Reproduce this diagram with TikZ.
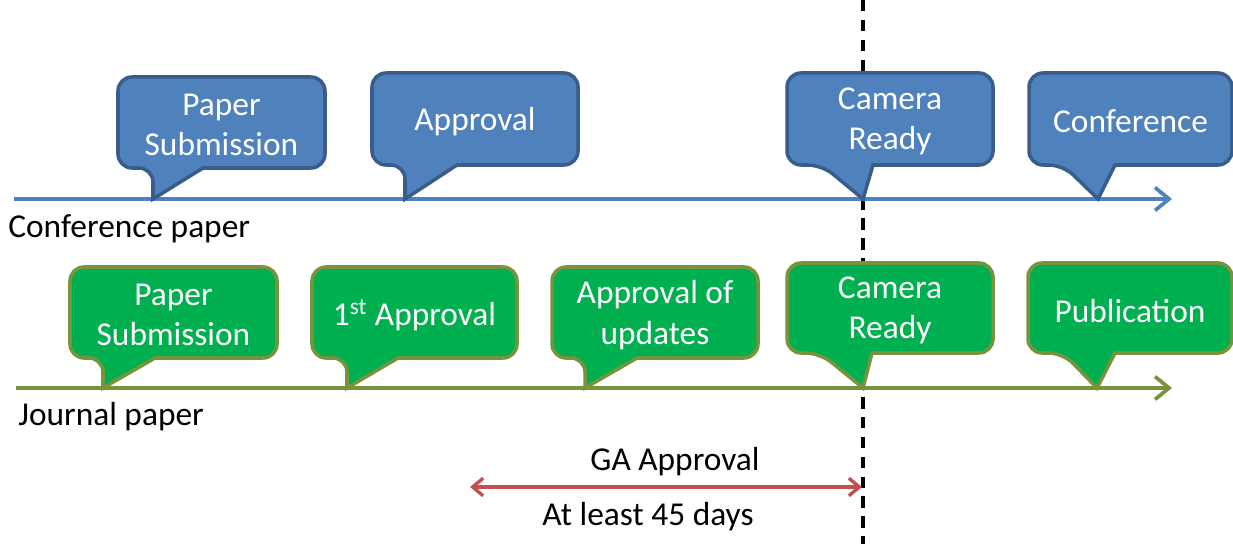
\documentclass[tikz,border=0pt]{standalone}
\usepackage{fontspec}
\setmainfont{Carlito}
\usetikzlibrary{arrows.meta}

\definecolor{confblue}{HTML}{4F81BD}
\definecolor{confedge}{HTML}{385D8A}
\definecolor{journgreen}{HTML}{00B050}
\definecolor{journedge}{HTML}{77933C}
\definecolor{gared}{HTML}{C0504D}

\tikzset{
    confbox/.style={draw=confedge, fill=confblue, line width=2pt},
    journbox/.style={draw=journedge, fill=journgreen, line width=2pt},
    boxtext/.style={text=white, align=center, yshift=-1.5pt, font=\fontsize{19}{23}\selectfont},
    linetext/.style={text=black, align=center, inner sep=0pt, font=\fontsize{19}{23}\selectfont},
    timeline/.style={line width=2.1pt, -{Straight Barb[length=8pt,width=13pt]}},
}

\begin{document}
\begin{tikzpicture}[x=0.2mm, y=-0.2mm]

    \useasboundingbox (0,0) rectangle (1233,544);

    % deadline marker
    \coordinate (dTop) at (863,0);
    \coordinate (dBottom) at (863,544);
    \draw[line width=1.9pt, dash pattern=on 6.5pt off 4.8pt] (dTop) -- (dBottom);

    % the two timelines
    \coordinate (confStart) at (14,199);
    \coordinate (confEnd) at (1172,199);
    \coordinate (journStart) at (16,388);
    \coordinate (journEnd) at (1172,388);

    \draw[timeline, draw=confblue] (confStart) -- (confEnd);
    \draw[timeline, draw=journedge] (journStart) -- (journEnd);

    \node[linetext, anchor=west] (confLabel) at (8,229) {Conference paper};
    \node[linetext, anchor=west] (journLabel) at (18,417) {Journal paper};

    % conference callouts
    \foreach \name/\xa/\ya/\xb/\yb/\tl/\tx/\tr/\txt in {
        cSubmit/118/77/325/168/153/153/203/{Paper\\Submission},
        cApprove/372/73/578/165/405/405/457/{Approval},
        cCamera/787/73/993/165/822/863/873/{Camera\\Ready},
        cConf/1029/73/1232/165/1063/1098/1115/{Conference}} {
        \coordinate (\name Tip) at (\tx,199);
        \draw[confbox] (\tr,\yb) [rounded corners=8pt] -- (\xb,\yb) -- (\xb,\ya) -- (\xa,\ya) -- (\xa,\yb) -- (\tl,\yb)
            [sharp corners] -- (\name Tip) -- cycle;
        \node[boxtext] (\name) at ({(\xa+\xb)/2},{(\ya+\yb)/2}) {\txt};
    }

    % journal callouts
    \foreach \name/\xa/\ya/\xb/\yb/\tl/\tx/\tr/\txt in {
        jSubmit/70/267/277/358/103/103/155/{Paper\\Submission},
        jApprove/312/267/517/358/347/347/398/{1\textsuperscript{st} Approval},
        jUpdates/552/267/758/358/585/585/637/{Approval of\\updates},
        jCamera/787/263/993/353/820/863/872/{Camera\\Ready},
        jPublish/1028/263/1232/353/1063/1097/1115/{Publication}} {
        \coordinate (\name Tip) at (\tx,388);
        \draw[journbox] (\tr,\yb) [rounded corners=8pt] -- (\xb,\yb) -- (\xb,\ya) -- (\xa,\ya) -- (\xa,\yb) -- (\tl,\yb)
            [sharp corners] -- (\name Tip) -- cycle;
        \node[boxtext] (\name) at ({(\xa+\xb)/2},{(\ya+\yb)/2}) {\txt};
    }

    % GA approval span
    \coordinate (gaStart) at (470,487);
    \coordinate (gaEnd) at (862,487);
    \draw[draw=gared, line width=1.9pt, {Straight Barb[length=6pt,width=10pt]}-{Straight Barb[length=6pt,width=10pt]}] (gaStart) -- (gaEnd);

    \node[linetext] (gaTitle) at (675,462) {GA Approval};
    \node[linetext] (gaDays) at (648,517) {At least 45 days};

\end{tikzpicture}
\end{document}
